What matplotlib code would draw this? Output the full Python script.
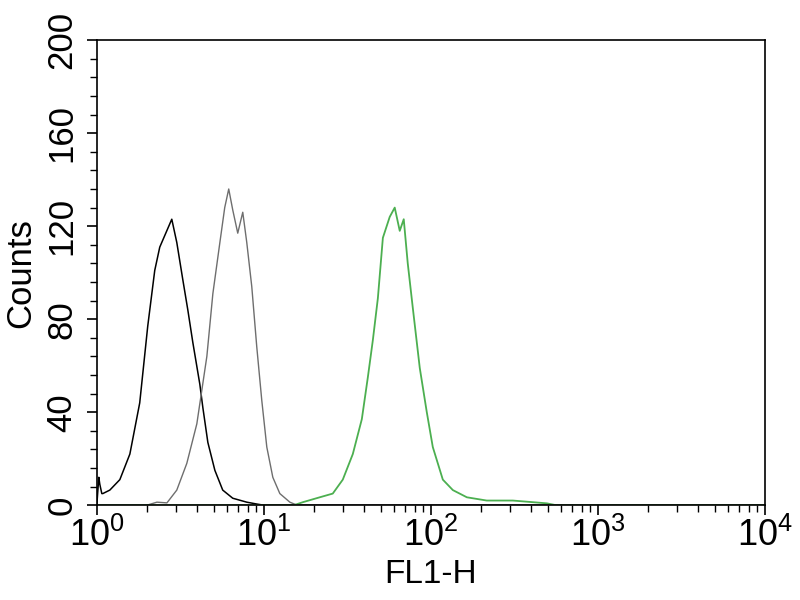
import matplotlib.pyplot as plt
import numpy as np

plt.rcParams['font.family'] = ['Liberation Sans', 'DejaVu Sans']

# histogram traces, x as log10(FL1-H)
black_log = [0.0, 0.012, 0.018, 0.03, 0.036, 0.078, 0.138, 0.198, 0.257, 0.305, 0.347,
             0.377, 0.419, 0.449, 0.479, 0.515, 0.545, 0.575, 0.617, 0.635, 0.665,
             0.707, 0.754, 0.814, 0.898, 0.958, 1.0, 4.0]
black_cnt = [0, 12, 9, 5, 5, 6.5, 11, 22, 44, 77, 101,
             111, 118, 123, 113, 97, 84, 70, 52, 42, 27,
             15, 6.5, 3, 1.3, 0.5, 0, 0]

gray_log = [0.0, 0.30, 0.36, 0.42, 0.479, 0.539, 0.599, 0.659, 0.695, 0.737, 0.766,
            0.790, 0.814, 0.844, 0.874, 0.898, 0.928, 0.958, 0.988, 1.018,
            1.054, 1.096, 1.156, 1.20, 4.0]
gray_cnt = [0, 0, 1.3, 1.0, 6.5, 18, 35, 64, 91, 113, 128,
            136, 127, 117, 126, 113, 94, 68, 45, 25,
            12, 5, 1.3, 0, 0]

green_log = [0.0, 1.18, 1.234, 1.335, 1.413, 1.473, 1.533, 1.587, 1.623, 1.653, 1.683,
             1.713, 1.754, 1.784, 1.814, 1.838, 1.862, 1.892, 1.934, 1.976, 2.012,
             2.072, 2.132, 2.216, 2.335, 2.491, 2.611, 2.695, 2.75, 4.0]
green_cnt = [0, 0, 1.3, 3.4, 5, 11, 22, 37, 55, 71, 89,
             115, 124, 128, 118, 123, 104, 85, 59, 40, 25,
             11, 6.5, 3.4, 2, 2, 1.3, 0.8, 0, 0]

xticks = [1, 10, 100, 1000, 10000]
xtick_labels = [r'$\mathregular{10^{%d}}$' % i for i in range(5)]
yticks = [0, 40, 80, 120, 160, 200]

fig = plt.figure(figsize=(8, 6), dpi=100)
ax = fig.add_axes([0.121, 0.158, 0.835, 0.775])

ax.plot(10 ** np.array(black_log), black_cnt, color='black', lw=1.1)
ax.plot(10 ** np.array(gray_log), gray_cnt, color='#6e6e6e', lw=1.0)
ax.plot(10 ** np.array(green_log), green_cnt, color='#4caf50', lw=1.3)

ax.set_xscale('log')
ax.set_xlim(1, 10000)
ax.set_ylim(0, 200)
ax.set_xticks(xticks)
ax.set_xticklabels(xtick_labels, fontsize=26)
ax.set_yticks(yticks)
ax.set_yticks(np.arange(0, 201, 8), minor=True)
ax.set_yticklabels([str(v) for v in yticks], rotation=90, va='center', fontsize=25)

ax.tick_params(axis='both', which='major', direction='out', length=7, width=1.2,
               colors='black')
ax.tick_params(axis='both', which='minor', direction='out', length=5, width=1.0)
ax.tick_params(axis='x', pad=2)
ax.tick_params(axis='y', pad=6)
for s in ax.spines.values():
    s.set_linewidth(1.2)

ax.set_xlabel('FL1-H', fontsize=24, labelpad=4)
ax.set_ylabel('Counts', fontsize=25, labelpad=6)

plt.savefig('out.png', dpi=100)
